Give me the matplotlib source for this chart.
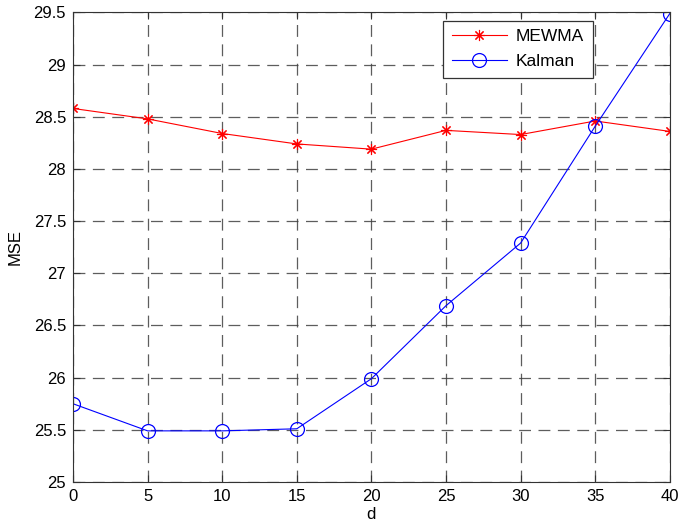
import matplotlib
matplotlib.use('Agg')
import matplotlib.pyplot as plt

plt.rcParams['font.family'] = ['Liberation Sans', 'DejaVu Sans']

d = [0, 5, 10, 15, 20, 25, 30, 35, 40]
mse_mewma = [28.58, 28.48, 28.34, 28.24, 28.19, 28.37, 28.33, 28.46, 28.36]
mse_kalman = [25.75, 25.49, 25.49, 25.51, 25.99, 26.69, 27.29, 28.41, 29.49]
yticks = [25, 25.5, 26, 26.5, 27, 27.5, 28, 28.5, 29, 29.5]
ytick_labels = ['25', '25.5', '26', '26.5', '27', '27.5', '28', '28.5', '29', '29.5']

fig = plt.figure(figsize=(6.79, 5.31), dpi=100)
ax = fig.add_axes([0.1075, 0.0923, 0.879, 0.8842])

# asterisk marker like the MATLAB '*'
ax.plot(d, mse_mewma, color='red', marker=(8, 2, 0), markersize=8, linewidth=0.8,
        markeredgewidth=0.8, label='MEWMA')
ax.plot(d, mse_kalman, color='blue', marker='o', markersize=10, linewidth=0.8,
        markerfacecolor='none', markeredgewidth=0.9, label='Kalman')

ax.set_xlim(0, 40)
ax.set_ylim(25, 29.5)
ax.set_xticks(d)
ax.set_yticks(yticks)
ax.set_yticklabels(ytick_labels)
ax.tick_params(direction='in', labelsize=12, length=5, color='#333333', pad=5)
ax.tick_params(top=True, right=True)
ax.grid(True, linestyle=(0, (9.5, 6)), color='#404040', linewidth=0.9, alpha=0.85)
for s in ax.spines.values():
    s.set_color('#333333')

ax.set_xlabel('d', fontsize=12, labelpad=2)
ax.set_ylabel('MSE', fontsize=12, labelpad=8)

leg = ax.legend(loc='upper left', bbox_to_anchor=(0.614, 0.99), fontsize=12.5,
                fancybox=False, framealpha=1, edgecolor='#333333',
                handlelength=3.2, borderpad=0.5, labelspacing=0.55,
                handletextpad=0.5, borderaxespad=0.2)
leg.get_frame().set_linewidth(0.9)

fig.savefig('out.png', dpi=100)
